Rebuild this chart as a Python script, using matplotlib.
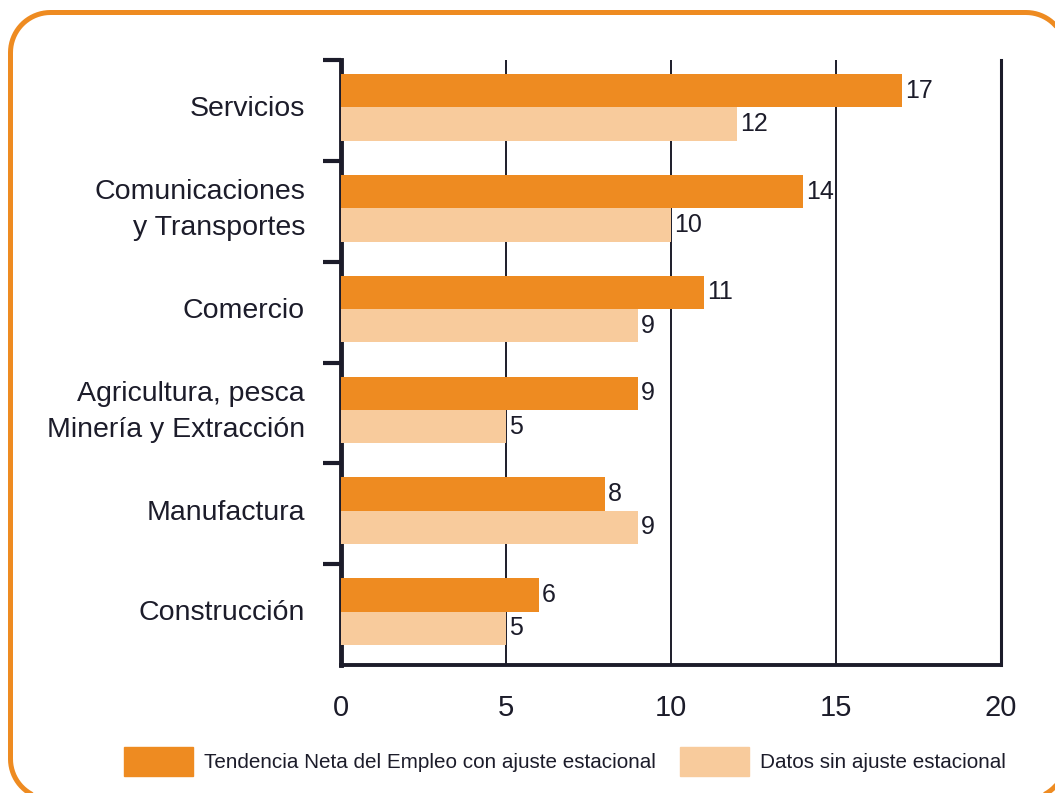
import numpy as np
import matplotlib.pyplot as plt
from matplotlib.patches import Rectangle

plt.rcParams['font.family'] = ['Liberation Sans', 'DejaVu Sans']

# data
categories = ['Servicios', 'Comunicaciones\ny Transportes', 'Comercio',
              'Agricultura, pesca\nMinería y Extracción', 'Manufactura', 'Construcción']
ajustada = [17, 14, 11, 9, 8, 6]
sin_ajuste = [12, 10, 9, 5, 9, 5]
legend_labels = ['Tendencia Neta del Empleo con ajuste estacional', 'Datos sin ajuste estacional']

dark = '#EE8B21'
light = '#F8CB9C'
ink = '#1c1c2a'

W, H = 1055, 793
fig = plt.figure(figsize=(W / 100, H / 100), dpi=100)

# background axes in pixel units (y up) for the rounded orange frame and legend
bg = fig.add_axes([0, 0, 1, 1], zorder=0)
bg.set_xlim(0, W)
bg.set_ylim(0, H)
bg.axis('off')


def rounded_frame(x0, y0, x1, y1, r):
    pts = []
    corners = [(x1 - r, y1 - r, 0), (x0 + r, y1 - r, 90),
               (x0 + r, y0 + r, 180), (x1 - r, y0 + r, 270)]
    for cx, cy, a0 in corners:
        t = np.radians(np.linspace(a0, a0 + 90, 20))
        pts += list(zip(cx + r * np.cos(t), cy + r * np.sin(t)))
    pts.append(pts[0])
    return np.array(pts)


fr = rounded_frame(10.5, -6, 1066, H - 12.5, 40)
bg.plot(fr[:, 0], fr[:, 1], color=dark, linewidth=3.6, solid_capstyle='round')

for x0, col, lab in ((124, dark, legend_labels[0]), (680, light, legend_labels[1])):
    bg.add_patch(Rectangle((x0, H - 776), 69, 29, color=col))
    bg.text(x0 + 80, H - 763, lab, fontsize=14.9, color=ink, va='center', ha='left')

ax = fig.add_axes([341 / W, 1 - 665 / H, 660 / W, 605 / H], zorder=1)
ax.patch.set_alpha(0)

h = 0.33
off = 0.03
pos = list(range(len(categories)))
b1 = ax.barh([p - h / 2 - off for p in pos], ajustada, height=h, color=dark, zorder=3)
b2 = ax.barh([p + h / 2 - off for p in pos], sin_ajuste, height=h, color=light, zorder=3)

for bars, vals in ((b1, ajustada), (b2, sin_ajuste)):
    for b, v in zip(bars, vals):
        ax.text(v + 0.08, b.get_y() + b.get_height() / 2, str(v),
                va='center', ha='left', fontsize=18, color=ink, zorder=4)

ax.set_xlim(0, 20)
ax.set_ylim(len(categories) - 0.5, -0.5)
ax.set_xticks([0, 5, 10, 15, 20])
ax.tick_params(axis='x', length=0, pad=21, labelsize=21, labelcolor=ink)
ax.set_yticks([p - 0.012 for p in pos])
ax.set_yticklabels(categories, fontsize=20.5, color=ink, linespacing=1.5)
for lbl in ax.get_yticklabels():
    lbl.set_verticalalignment('center')
ax.tick_params(axis='y', which='major', length=0, pad=26)
ax.set_yticks([p - 0.5 for p in pos], minor=True)
ax.tick_params(axis='y', which='minor', length=13, width=3, color=ink, direction='out')

for x in [5, 10, 15]:
    ax.axvline(x, color=ink, linewidth=1.4, zorder=2)

ax.spines['top'].set_visible(False)
ax.spines['left'].set_linewidth(3.5)
ax.spines['bottom'].set_linewidth(2.8)
ax.spines['right'].set_linewidth(2.2)
for s in ['left', 'bottom', 'right']:
    ax.spines[s].set_color(ink)

fig.savefig('out.png', dpi=100)
